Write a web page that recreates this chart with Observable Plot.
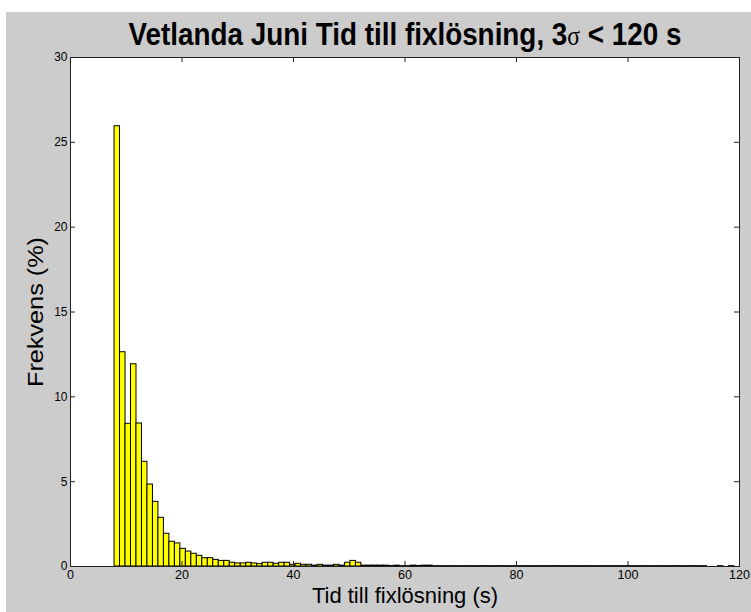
<!DOCTYPE html>
<html>
<head>
<meta charset="utf-8">
<script src="https://cdn.jsdelivr.net/npm/d3@7"></script>
<script src="https://cdn.jsdelivr.net/npm/@observablehq/plot@0.6"></script>
<style>
html, body { margin: 0; padding: 0; background: #ffffff; }
#wrap { position: relative; width: 751px; height: 612px; overflow: hidden; }
#bg { position: absolute; left: 6px; top: 12px; right: 0; bottom: 0; background: #cccccc; }
#chart { position: absolute; left: 0; top: 0; }
#title { position: absolute; left: 405px; top: 18px; white-space: nowrap;
  font-family: "Liberation Sans", Arial, sans-serif; font-weight: bold; font-size: 32px; line-height: 1;
  color: #000; transform: translateX(-50%) scaleX(0.87); transform-origin: 50% 50%; }
#title .sig { font-family: "Liberation Serif", "DejaVu Serif", serif; font-weight: normal; font-size: 0.85em; }
</style>
</head>
<body>
<div id="wrap">
  <div id="bg"></div>
  <div id="chart"></div>
  <div id="title">Vetlanda Juni Tid till fixlösning, 3<span class="sig">σ</span> &lt; 120 s</div>
</div>
<script>
// Histogram bins: first bin left edge and bin width (seconds)
const binStart = 7.9;
const binWidth = 0.984;
// Frequency (%) per bin
const freq = [
  25.95, 12.63, 8.41, 11.92, 8.43, 6.17, 4.83, 3.81, 2.87, 1.93,
  1.46, 1.36, 1.04, 0.88, 0.75, 0.63, 0.49, 0.49, 0.39, 0.33,
  0.33, 0.22, 0.18, 0.18, 0.22, 0.18, 0.14, 0.22, 0.22, 0.16,
  0.22, 0.22, 0.10, 0.16, 0.10, 0.10, 0.05, 0.10, 0.05, 0.05,
  0.10, 0.05, 0.22, 0.33, 0.22, 0.05, 0.05, 0.05, 0.05, 0.05,
  0.03, 0.05, 0.02, 0.02, 0.05, 0.03, 0.05, 0.05, 0.02, 0.02,
  0.02, 0.02, 0.02, 0.02, 0.02, 0.02, 0.02, 0.02, 0.02, 0.02,
  0.02, 0.02, 0.02, 0.02, 0.02, 0.02, 0.02, 0.02, 0.02, 0.02,
  0.02, 0.02, 0.02, 0.02, 0.02, 0.02, 0.02, 0.02, 0.02, 0.02,
  0.02, 0.02, 0.02, 0.02, 0.02, 0.02, 0.02, 0.02, 0.02, 0.02,
  0.02, 0.02, 0.02, 0.02, 0.02, 0.02, 0.02, 0.02, 0, 0,
  0.02, 0, 0.02
];
const xTicks = [0, 20, 40, 60, 80, 100, 120];
const yTicks = [0, 5, 10, 15, 20, 25, 30];
const xInner = [20, 40, 60, 80, 100];
const yInner = [5, 10, 15, 20, 25];
const xLabel = "Tid till fixlösning (s)";
const yLabel = "Frekvens (%)";

const bins = freq.map((v, i) => ({
  x1: binStart + i * binWidth,
  x2: binStart + (i + 1) * binWidth,
  v
})).filter(d => d.v > 0);

const W = 751, H = 612;
const mL = 70, mR = 12, mT = 57, mB = 46;
const innerW = W - mL - mR, innerH = H - mT - mB;

const chart = Plot.plot({
  width: W,
  height: H,
  marginLeft: mL,
  marginRight: mR,
  marginTop: mT,
  marginBottom: mB,
  style: { background: "transparent", fontFamily: "'Liberation Sans', Arial, sans-serif", color: "#000" },
  x: { domain: [0, 120] },
  y: { domain: [0, 30] },
  marks: [
    Plot.frame({ fill: "#ffffff", stroke: "none" }),
    Plot.rect(bins, { x1: "x1", x2: "x2", y1: 0, y2: "v", fill: "#ffff00", stroke: "#000000", strokeWidth: 1 }),
    Plot.tickX(xInner, { x: d => d, insetTop: innerH - 5, stroke: "#222" }),
    Plot.tickX(xInner, { x: d => d, insetBottom: innerH - 5, stroke: "#222" }),
    Plot.tickY(yInner, { y: d => d, insetRight: innerW - 5, stroke: "#222" }),
    Plot.tickY(yInner, { y: d => d, insetLeft: innerW - 5, stroke: "#222" }),
    Plot.frame({ stroke: "#222", strokeWidth: 1 }),
    Plot.axisX({ ticks: xTicks, tickSize: 0, tickPadding: 4, fontSize: 12.5, label: null, tickFormat: d => String(d) }),
    Plot.axisY({ ticks: yTicks, tickSize: 0, tickPadding: 3, fontSize: 12, label: null, tickFormat: d => String(d) }),
    Plot.text([xLabel], { text: d => d, frameAnchor: "bottom", textAnchor: "middle", dy: 36, fontSize: 22, fill: "#000" }),
    Plot.text([yLabel], { text: d => d, frameAnchor: "left", textAnchor: "middle", rotate: -90, dx: -35, fontSize: 22, fill: "#000" })
  ]
});
document.getElementById("chart").appendChild(chart);
// stretch the rotated y label along its length as in the reference
chart.querySelectorAll("text").forEach(t => {
  if (t.textContent === yLabel) {
    t.setAttribute("textLength", 150);
    t.setAttribute("lengthAdjust", "spacingAndGlyphs");
  }
});
</script>
</body>
</html>
